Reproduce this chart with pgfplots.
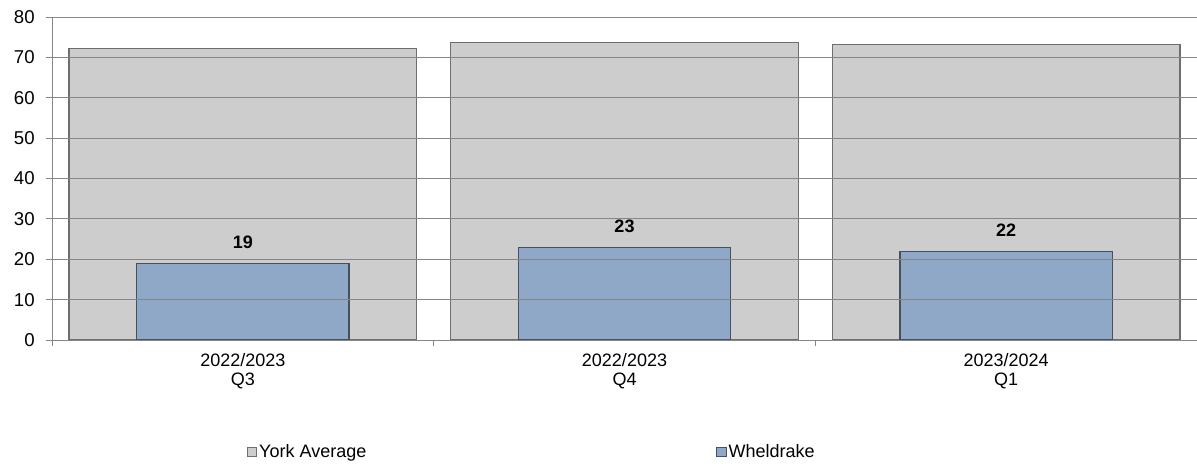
\documentclass[border=0pt]{standalone}
\usepackage{fontspec}
\setmainfont{Liberation Sans}
\usepackage{pgfplots}
\pgfplotsset{compat=1.18}
\definecolor{yorkgray}{RGB}{205,205,205}
\definecolor{yorkedge}{RGB}{110,110,110}
\definecolor{wblue}{RGB}{143,168,199}
\definecolor{wedge}{RGB}{70,80,95}
\definecolor{gridc}{RGB}{134,134,134}
\pgfplotsset{/pgf/number format/assume math mode=true}
\begin{document}
\fontsize{9}{11}\selectfont
\begin{tikzpicture}
\useasboundingbox (-26pt,-61.5pt) rectangle (572.5pt,170pt);
\begin{axis}[
 at={(0,0)}, anchor=south west, scale only axis,
 width=572.5pt, height=161.5pt,
 xmin=-0.5, xmax=2.5, ymin=0, ymax=80,
 ytick={0,10,...,80},
 xtick={-0.5,0.5,1.5,2.5},
 x tick label as interval,
 xticklabels={{2022/2023\\Q3},{2022/2023\\Q4},{2023/2024\\Q1}},
 xticklabel style={align=center, font=\fontsize{9}{9.5}\selectfont, yshift=-0.5pt},
 yticklabel style={font=\fontsize{9.3}{11}\selectfont, xshift=-2.5pt},
 axis x line*=bottom, axis y line*=left,
 axis line style={draw=gridc, -},
 ymajorgrids, grid style={draw=gridc, line width=0.4pt},
 tick style={draw=gridc, line width=0.4pt},
 tick align=outside, major tick length=3pt,
 axis on top,
 legend style={at={(0.17,-0.347)}, anchor=west, draw=none, fill=none,
   legend columns=2, font=\fontsize{9}{11}\selectfont, inner sep=0pt,
   nodes={inner xsep=1pt},
   /tikz/every odd column/.append style={column sep=0pt},
   /tikz/every even column/.append style={column sep=174pt}},
 legend image code/.code={\draw[#1, line width=0.5pt] (0pt,-2.3pt) rectangle (4.6pt,2.3pt);},
]
\addplot[ybar, bar width=0.911, bar shift=0pt, fill=yorkgray, draw=yorkedge, line width=0.6pt]
  coordinates {(0,72.2) (1,73.6) (2,73.1)};
\addlegendentry{York Average}
\addplot[ybar, bar width=0.556, bar shift=0pt, fill=wblue, draw=wedge, line width=0.6pt,
  nodes near coords, every node near coord/.append style={font=\fontsize{9}{11}\bfseries, yshift=4pt, text=black}]
  coordinates {(0,19) (1,23) (2,22)};
\addlegendentry{Wheldrake}
\end{axis}
\end{tikzpicture}
\end{document}
